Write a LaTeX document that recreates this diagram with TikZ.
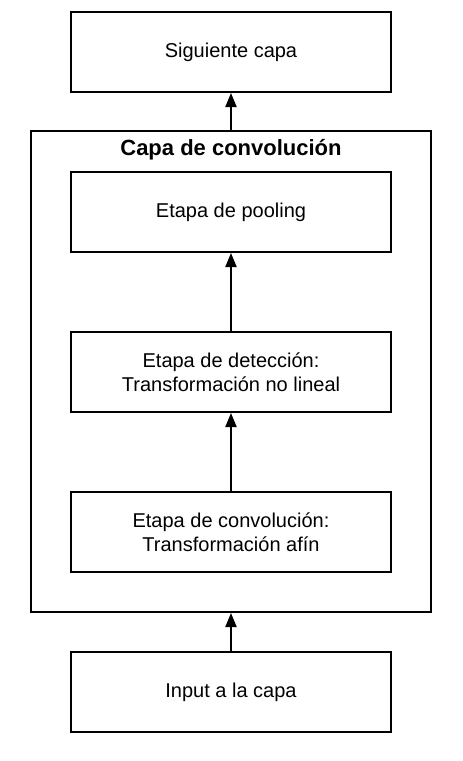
\documentclass[tikz,border=0pt]{standalone}
\usepackage{fontspec}
\setmainfont{Liberation Sans}
\usetikzlibrary{arrows.meta}
\begin{document}
\begin{tikzpicture}[x=1pt,y=-1pt,
  box/.style={draw,line width=2pt,minimum width=320pt,minimum height=80pt,align=center,font=\fontsize{20}{24}\selectfont,inner sep=0pt},
  arr/.style={line width=2pt,-{Triangle[length=14pt,width=11pt]}}]
\useasboundingbox (0,0) rectangle (463,761);
\node[draw,line width=2pt,minimum width=400pt,minimum height=481pt,inner sep=0pt] (outer) at (231,371.5) {};
\node[font=\bfseries\fontsize{22}{26}\selectfont] (title) at (231,150) {Capa de convolución};
\node[box] (sig) at (231,52) {Siguiente capa};
\node[box] (pool) at (231,212) {Etapa de pooling};
\node[box] (det) at (231,372) {Etapa de detección:\\Transformación no lineal};
\node[box] (conv) at (231,532) {Etapa de convolución:\\Transformación afín};
\node[box] (inp) at (231,692) {Input a la capa};
\draw[arr] (inp.north) -- (outer.south);
\draw[arr] (conv.north) -- (det.south);
\draw[arr] (det.north) -- (pool.south);
\draw[arr] (outer.north) -- (sig.south);
\end{tikzpicture}
\end{document}
